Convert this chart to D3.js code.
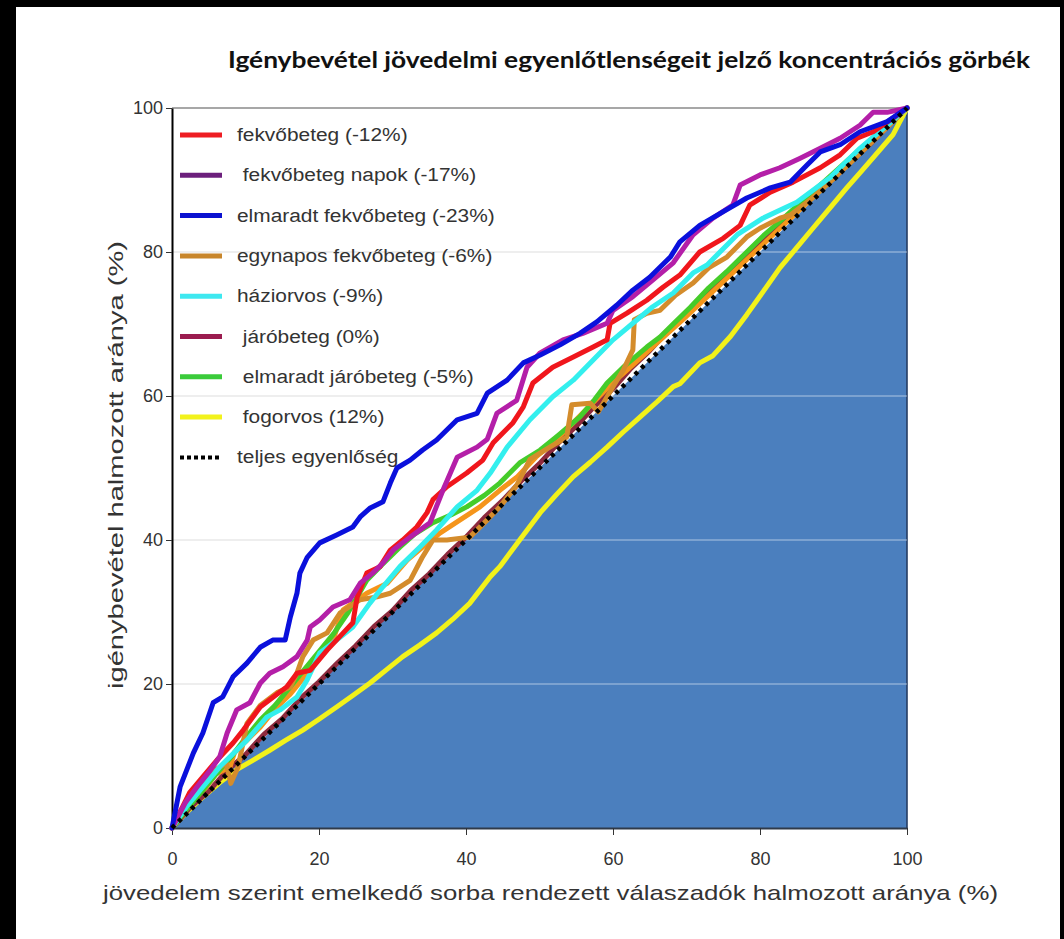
<!DOCTYPE html>
<html><head><meta charset="utf-8">
<script src="https://cdn.jsdelivr.net/npm/d3@7"></script>
<style>html,body{margin:0;background:#fff;} svg{display:block}</style>
</head><body>
<svg id="chart" width="1064" height="939"></svg>
<script>
// ---------------- DATA ----------------
const chartTitle = "Igénybevétel jövedelmi egyenlőtlenségeit jelző koncentrációs görbék";
const xTitle = "jövedelem szerint emelkedő sorba rendezett válaszadók halmozott aránya (%)";
const yTitle = "igénybevétel halmozott aránya (%)";
const xTicks = [0, 20, 40, 60, 80, 100];
const yTicks = [0, 20, 40, 60, 80, 100];
const gridValues = [20, 40, 60, 80];

const legendLabels = ["fekvőbeteg (-12%)", " fekvőbeteg napok (-17%)", "elmaradt fekvőbeteg (-23%)",
  "egynapos fekvőbeteg (-6%)", "háziorvos (-9%)", " járóbeteg (0%)", " elmaradt járóbeteg (-5%)",
  " fogorvos (12%)", "teljes egyenlőség"];

const fekvobeteg = [[0,0],[2.4,4.9],[4.2,7.1],[6.1,9.4],[8.3,11.8],[9.7,13.6],[12,16.8],[13.3,17.8],[15.6,19.6],[17,21.5],[18.8,21.9],[21.1,24.7],[23.3,27.1],[24.6,28.5],[25.2,32.1],[26.5,35.4],[28.3,36.3],[29.7,38.6],[31.4,40],[33.3,41.8],[34.7,43.8],[35.5,45.6],[37.4,47.4],[40.1,49.3],[42.3,51.1],[43.7,53.5],[46.4,56.3],[47.8,58.5],[49.1,61.8],[51.8,64],[54.6,65.4],[57.3,66.8],[59.2,67.8],[59.6,70.1],[61.9,71.5],[64.6,73.3],[66.8,75.1],[69.1,76.8],[71.8,80],[75,81.9],[77.3,83.7],[78.6,86.5],[81.4,88.3],[84.5,89.7],[88.2,91.7],[90.9,93.5],[93.2,95.8],[95.4,96.7],[98.1,98.6],[100,100]];

const fekvobetegNapok = [[0,0],[1.8,3.5],[3.4,5.7],[5.2,8],[6.5,9.9],[7.5,13.2],[8.8,16.4],[10.6,17.4],[12,20.1],[13.3,21.5],[15.1,22.4],[17,23.8],[18.4,26.1],[18.8,27.9],[20.1,28.9],[21.9,30.7],[24.2,31.7],[25.6,34],[27.3,35.4],[28.7,36.8],[30.1,38.6],[32.4,40.4],[35.1,42.4],[36.9,47],[38.8,51.5],[41.5,52.9],[42.9,54],[44.2,57.6],[46.9,59.4],[48.3,64],[50.1,66],[53.2,67.8],[55.9,68.7],[59.2,70.1],[60,71.9],[62.7,73.8],[65.4,76.1],[68.2,78.5],[70.9,82.4],[73.6,84.7],[76.3,86.5],[77.3,89.3],[80,90.7],[82.7,91.7],[85.4,93],[88.2,94.4],[90.9,95.8],[93.6,97.6],[95.4,99.4],[97.3,99.4],[100,100]];

const elmaradtFekvobeteg = [[0,0],[1.1,5.7],[2.9,10.4],[4.2,13.2],[5.6,17.4],[6.9,18.2],[8.3,21],[10.2,22.9],[12,25.1],[13.7,26.1],[15.4,26.1],[16.1,29.3],[17,32.6],[17.4,35.4],[18.4,37.6],[20.1,39.6],[22.4,40.7],[24.6,41.8],[25.6,43.2],[26.9,44.4],[28.7,45.3],[29.7,47.9],[30.6,50],[32.4,51.1],[34.1,52.5],[36,53.9],[38.8,56.7],[41.5,57.6],[42.9,60.4],[45.6,62.2],[47.8,64.6],[50.1,65.7],[52.8,67.1],[55.5,68.7],[57.8,70.3],[60.5,72.6],[62.7,74.7],[65,76.5],[67.8,79.3],[69.1,81.4],[71.8,83.7],[75,85.6],[78.2,87.5],[81.4,88.9],[84.1,89.7],[86.4,92.1],[88.2,93.9],[90.9,94.9],[93.6,96.7],[97.3,98.1],[100,100]];

const egynaposFekvobeteg = [[0,0],[2,3.2],[4.2,6],[6.1,8.2],[7.4,9],[8,6.2],[9,8.5],[10.2,14.5],[12,17],[14.3,18.8],[16.1,19.6],[17,21.5],[17.8,23.8],[19.2,26.1],[21.1,27.1],[22.9,29.9],[25.6,31.7],[27.9,32.1],[29.7,32.6],[32.4,34.4],[34,37.5],[35.5,40],[37.4,40],[40.5,40.4],[42.9,42.8],[44.6,44.6],[46.9,47.6],[48.7,51.2],[51.4,52.9],[53.7,54.3],[54.4,58.8],[56.9,59],[58,57.8],[60,61.3],[61.4,63.6],[62.7,66.4],[62.9,70.6],[64.6,71.5],[66.4,71.9],[68.5,74],[70.9,75.7],[73,77.8],[75.5,79.3],[78.2,82.1],[80,83.3],[82.7,84.7],[84.1,85.1],[87,87.4],[90,90.2],[93,93.1],[96,96],[100,100]];

const haziorvos = [[0,0],[2,3],[4.2,5.7],[6.5,8.5],[8.5,10.5],[10.2,12.2],[12.9,15.4],[14.7,16.4],[17,18.2],[18.4,20.6],[20.1,24.3],[22.4,26.1],[24.6,27.9],[26.9,31.2],[28.7,33.5],[31,36.3],[33.7,39],[36,41.4],[38.8,44.6],[41.5,46.9],[43.3,49.3],[45.6,52.9],[48.7,56.7],[51.8,59.9],[54.6,62.2],[57.3,65],[60,67.8],[62.7,70.1],[65.4,72.4],[68.2,74.3],[70.9,77.1],[72.8,78.2],[76.9,82.4],[80.4,84.7],[85,86.9],[89.5,90.3],[93.6,94.4],[97.3,97.6],[100,100]];

const jarobeteg = [[0,0],[2.5,2.9],[5,5.1],[7.5,8],[10,10.2],[12.5,13],[15,15.2],[17.5,18],[20,20.3],[22.5,22.9],[25,25.3],[27.5,28],[30,30.2],[32.5,33],[35,35.3],[37.5,38],[40,40.4],[42.5,43.1],[45,45.5],[47.5,48.2],[50,50.6],[52.5,53.4],[55,55.8],[57.5,58.6],[60,61],[62.5,63.9],[65,66.3],[67.5,69.1],[70,71.5],[72.5,74.1],[75,76.3],[77.5,78.9],[80,81],[82.5,83.5],[85,85.6],[87.5,88.1],[90,90.2],[92.5,92.7],[95,95],[97.5,97.6],[100,100]];

const elmaradtJarobeteg = [[0,0],[2,2.6],[4,5],[6,7.5],[8,9.8],[10,12.5],[12,15],[14,17],[16,19.5],[18,22],[20,24.5],[22,27],[24,30],[26.5,34.4],[28.5,36.5],[31,39],[33,40.8],[35.5,42.4],[38,43.5],[40.1,44.6],[42.5,46.2],[44.6,47.9],[47.3,50.7],[50.1,52.5],[52.5,54.5],[55.5,57.1],[57.5,59.5],[59.2,61.8],[61.4,64],[64.6,66.8],[66.4,68.2],[68.5,70.3],[70.5,72.3],[73,75],[75.5,77.3],[78,79.8],[80.5,82.3],[83,84.5],[86,87.3],[89,90],[92,92.8],[95,95.5],[97.5,97.8],[100,100]];

const fogorvos = [[0,0],[2,2.2],[4.2,4.3],[6.5,6.3],[8.8,8.1],[11,9.4],[13.3,10.8],[15.5,12.2],[17.8,13.6],[20,15.1],[22.4,16.8],[24.6,18.4],[26.9,20.1],[29.2,22],[31.4,23.8],[33.7,25.4],[36,27.1],[38.2,29],[40.5,31.2],[43.3,34.9],[44.6,36.3],[47.3,40],[50.1,43.8],[52.3,46.3],[54.6,48.8],[56.9,50.8],[59.2,52.9],[61.4,55],[63.7,57.1],[66,59.2],[68.2,61.3],[69.1,61.7],[71.8,64.6],[73.6,65.6],[76,68.3],[78.2,71.3],[80.5,74.6],[82.7,77.8],[85,80.6],[87.2,83.3],[89.5,86.1],[91.8,88.9],[93.6,91],[95.4,93.1],[98.1,96.3],[100,100]];

// an additional (unlabelled) orange curve visible in the picture, close to the diagonal
const egynaposB = [[0,0],[1.5,2.5],[3,4.2],[4.5,5.5],[6,7.5],[7.9,8.5],[8.5,10.5],[10.2,12.2],[12,14],[14,16.5],[16,18.5],[18,21],[20,23.5],[21.9,26.1],[23.3,30.3],[26.5,32.6],[29.3,34],[32,37.2],[34.1,39],[36.5,41],[39.2,42.8],[41.9,44.6],[44.6,46.9],[47,48.8],[49.5,51.5],[52,53.7],[54.5,56.2],[57,58.8],[59.5,61.4],[61.9,63.6],[64.5,66],[67,68.3],[69.5,70.6],[72,73],[74.5,75.4],[77,77.8],[79.5,80.2],[82,82.6],[84.5,85],[87,87.4],[89.5,89.8],[92,92.2],[94.5,94.7],[97,97.2],[100,100]];

const equality = [[0,0],[100,100]];

// ---------------- SETUP ----------------
const W = 1064, H = 939;
const svg = d3.select('#chart');
const x = d3.scaleLinear().domain([0, 100]).range([172, 907]);
const y = d3.scaleLinear().domain([0, 100]).range([828, 108]);
const FONT = "'Liberation Sans', Arial, sans-serif";

svg.append('rect').attr('width', W).attr('height', H).attr('fill', '#000');
svg.append('rect').attr('x', 16).attr('y', 7).attr('width', 1044).attr('height', H - 7).attr('fill', '#fff');

// grid (grey part visible over white area)
svg.append('g').selectAll('line').data(gridValues).join('line')
  .attr('x1', x(0)).attr('x2', x(100)).attr('y1', d => y(d)).attr('y2', d => y(d))
  .attr('stroke', '#d2d2d2').attr('stroke-width', 1.2);
svg.append('line').attr('x1', x(0)).attr('x2', x(100)).attr('y1', y(100)).attr('y2', y(100))
  .attr('stroke', '#8a8a8a').attr('stroke-width', 1.5);

// blue area under equality line
svg.append('path')
  .attr('d', d3.line().x(d => x(d[0])).y(d => y(d[1]))([[0,0],[100,100],[100,0]]) + 'Z')
  .attr('fill', '#4b7fbe');
svg.append('line').attr('x1', x(100)).attr('x2', x(100)).attr('y1', y(0)).attr('y2', y(100))
  .attr('stroke', '#253d63').attr('stroke-width', 1.6);
// grid over blue area
svg.append('g').selectAll('line').data(gridValues).join('line')
  .attr('x1', x(0)).attr('x2', x(100)).attr('y1', d => y(d)).attr('y2', d => y(d))
  .attr('stroke', '#ffffff').attr('stroke-opacity', 0.55).attr('stroke-width', 1.2);

// axes
const yAxis = svg.append('g').attr('transform', `translate(${x(0)},0)`)
  .call(d3.axisLeft(y).tickValues(yTicks).tickSize(6).tickPadding(3).tickSizeOuter(0));
yAxis.select('.domain').attr('stroke', '#000').attr('stroke-width', 2);
yAxis.selectAll('.tick line').attr('stroke', '#333');
yAxis.selectAll('text').attr('font-family', FONT).attr('font-size', 18).attr('fill', '#333');

const xAxis = svg.append('g').attr('transform', `translate(0,${y(0)})`)
  .call(d3.axisBottom(x).tickValues(xTicks).tickSize(7).tickPadding(17).tickSizeOuter(0));
xAxis.select('.domain').attr('stroke', '#2f3a4a').attr('stroke-width', 2);
xAxis.selectAll('.tick line').attr('stroke', '#333');
xAxis.selectAll('text').attr('font-family', FONT).attr('font-size', 18).attr('fill', '#333');

// titles
svg.append('text').attr('x', 228).attr('y', 68).text(chartTitle)
  .attr('font-family', "Lato, 'Open Sans', sans-serif").attr('font-weight', 'bold').attr('font-size', 22)
  .attr('fill', '#111').attr('textLength', 802).attr('lengthAdjust', 'spacingAndGlyphs');
svg.append('text').attr('x', 103).attr('y', 900).text(xTitle)
  .attr('font-family', FONT).attr('font-size', 21).attr('fill', '#333')
  .attr('textLength', 895).attr('lengthAdjust', 'spacingAndGlyphs');
svg.append('text').attr('transform', 'translate(123,465) rotate(-90)').attr('text-anchor', 'middle')
  .text(yTitle).attr('font-family', FONT).attr('font-size', 21).attr('fill', '#333')
  .attr('textLength', 448).attr('lengthAdjust', 'spacingAndGlyphs');

// legend
const legendColors = ['#ee1d23', '#6c1f7c', '#0b12d0', '#c8862b', '#3ee8f0', '#9b1c4f', '#3acb3a', '#f2f21c', '#000'];
const lg = svg.append('g');
const rows = lg.selectAll('g').data(legendLabels).join('g')
  .attr('transform', (d, i) => `translate(0,${135 + i * 40.3})`);
rows.append('line').attr('x1', 180).attr('x2', 222).attr('y1', 0).attr('y2', 0)
  .attr('stroke', (d, i) => legendColors[i]).attr('stroke-width', (d, i) => i === 8 ? 4 : 5)
  .attr('stroke-dasharray', (d, i) => i === 8 ? '4 3' : null);
rows.append('text').attr('x', 237).attr('y', 6).text(d => d)
  .style('white-space', 'pre')
  .attr('font-family', FONT).attr('font-size', 18).attr('fill', '#333')
  .each(function () {
    const len = this.getComputedTextLength();
    d3.select(this).attr('textLength', len * 1.16).attr('lengthAdjust', 'spacingAndGlyphs');
  });

// series lines
const series = [
  { data: fogorvos, color: '#f2f21a' },
  { data: jarobeteg, color: '#8e2a3e' },
  { data: egynaposB, color: '#f5951b' },
  { data: elmaradtJarobeteg, color: '#45cc2a' },
  { data: egynaposFekvobeteg, color: '#d48c2c' },
  { data: haziorvos, color: '#33efee' },
  { data: fekvobeteg, color: '#f0161c' },
  { data: fekvobetegNapok, color: '#b41fa8' },
  { data: elmaradtFekvobeteg, color: '#0a10dc' }
];
const line = d3.line().x(d => x(d[0])).y(d => y(d[1]));
svg.append('g').selectAll('path').data(series).join('path')
  .attr('d', d => line(d.data)).attr('fill', 'none')
  .attr('stroke', d => d.color).attr('stroke-width', 5)
  .attr('stroke-linejoin', 'round').attr('stroke-linecap', 'round');

svg.append('path').attr('d', line(equality)).attr('fill', 'none')
  .attr('stroke', '#000').attr('stroke-width', 4.5).attr('stroke-dasharray', '4 5');
</script></body></html>
